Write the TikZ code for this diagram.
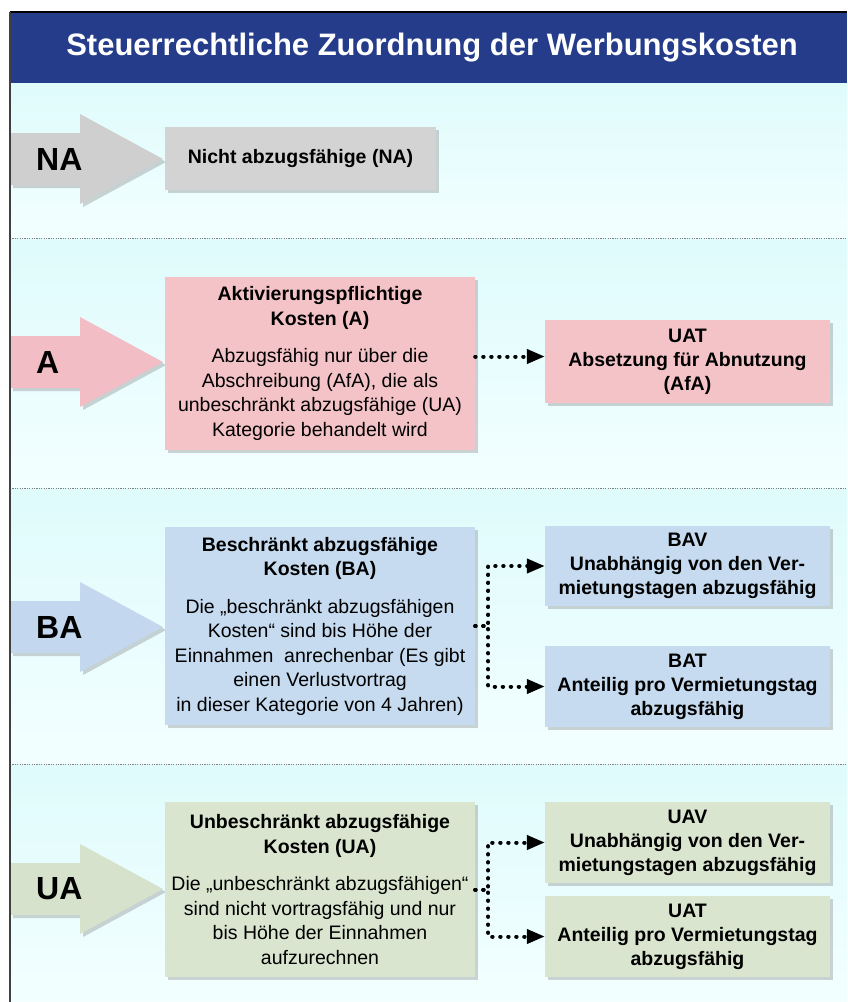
\documentclass[tikz,border=0pt]{standalone}
\usepackage{fontspec}
\setmainfont{Liberation Sans}
\usetikzlibrary{arrows.meta,shadows}

\definecolor{titelblau}{HTML}{243C8A}
\definecolor{cyanoben}{HTML}{DFFBFC}
\definecolor{cyanunten}{HTML}{F3FFFF}
\definecolor{grauBox}{HTML}{D3D3D3}
\definecolor{grauPf}{HTML}{CFCFCF}
\definecolor{rosaBox}{HTML}{F4C3C7}
\definecolor{rosaPf}{HTML}{F2BDC4}
\definecolor{blauBox}{HTML}{C6DBEF}
\definecolor{blauPf}{HTML}{C3D8EE}
\definecolor{gruenBox}{HTML}{DAE5D0}
\definecolor{gruenPf}{HTML}{D6E2CC}

\begin{document}
\begin{tikzpicture}[x=1pt,y=-1pt,
    schatten/.style={drop shadow={shadow xshift=3pt,shadow yshift=-3pt,opacity=0.35}},
    kasten/.style={align=center, inner sep=1pt, schatten, font=\fontsize{19.5}{24.5}\selectfont},
    gross/.style={kasten, minimum width=310pt},
    klein/.style={kasten, minimum width=285pt, font=\bfseries\fontsize{19.5}{24}\selectfont},
    punkte/.style={line width=4pt, line cap=round, dash pattern=on 0.4pt off 7.6pt,
        -{Triangle[length=18pt,width=14pt]}},
    trenner/.style={gray, line width=1pt, dash pattern=on 1.2pt off 1.2pt}]
    \useasboundingbox (0,0) rectangle (847,1002);
    % Hintergrund
    \foreach \ya/\yb in {83/238,238/488,488/764,764/1002}
        \shade[top color=cyanoben, bottom color=cyanunten] (10,\ya) rectangle (847,\yb);
    \fill[titelblau] (10,12) rectangle (847,83);
    \draw[line width=1.2pt] (10,12) -- (847,12);
    \node[text=white, font=\bfseries\fontsize{31}{31}\selectfont] (titel) at (432,48)
        {Steuerrechtliche Zuordnung der Werbungskosten};
    \foreach \y in {238,488,764}
        \draw[trenner] (10,\y) -- (847,\y);
    % Pfeile links
    \foreach \y/\farbe/\txt in {159/grauPf/NA,362/rosaPf/A,627/blauPf/BA,889/gruenPf/UA} {
        \fill[\farbe, schatten] (10,\y-26) -- (80,\y-26) -- (80,\y-45) -- (163,\y)
            -- (80,\y+45) -- (80,\y+26) -- (10,\y+26) -- cycle;
        \node[anchor=west, inner sep=0pt, font=\bfseries\fontsize{32}{32}\selectfont] (pf\txt) at (36,\y) {\txt};
    }
    \draw[darkgray, line width=1.5pt] (10,12) -- (10,1002);
    % Kaesten
    \node[gross, fill=grauBox, minimum width=271pt, minimum height=63pt,
        font=\bfseries\fontsize{19.5}{24.5}\selectfont] (na) at (300.5,158.5) {Nicht abzugsfähige (NA)};
    \node[gross, fill=rosaBox, minimum height=173pt] (a) at (320,363.5)
        {\textbf{Aktivierungspflichtige}\\\textbf{Kosten (A)}\\[13pt]
         Abzugsfähig nur über die\\Abschreibung (AfA), die als\\unbeschränkt abzugsfähige (UA)\\Kategorie behandelt wird};
    \node[klein, fill=rosaBox, minimum height=83pt] (uatA) at (687.5,361.5)
        {UAT\\Absetzung für Abnutzung\\(AfA)};
    \node[gross, fill=blauBox, minimum height=198pt] (ba) at (320,626)
        {\textbf{Beschränkt abzugsfähige}\\\textbf{Kosten (BA)}\\[13pt]
         Die „beschränkt abzugsfähigen\\Kosten“ sind bis Höhe der\\Einnahmen~ anrechenbar (Es gibt\\einen Verlustvortrag\\in dieser Kategorie von 4 Jahren)};
    \node[klein, fill=blauBox, minimum height=80pt] (bav) at (687.5,566)
        {BAV\\Unabhängig von den Ver-\\mietungstagen abzugsfähig};
    \node[klein, fill=blauBox, minimum height=81pt] (bat) at (687.5,686.5)
        {BAT\\Anteilig pro Vermietungstag\\abzugsfähig};
    \node[gross, fill=gruenBox, minimum height=175pt] (ua) at (320,889.5)
        {\textbf{Unbeschränkt abzugsfähige}\\\textbf{Kosten (UA)}\\[13pt]
         Die „unbeschränkt abzugsfähigen“\\sind nicht vortragsfähig und nur\\bis Höhe der Einnahmen\\aufzurechnen};
    \node[klein, fill=gruenBox, minimum height=81pt] (uav) at (687.5,842.5)
        {UAV\\Unabhängig von den Ver-\\mietungstagen abzugsfähig};
    \node[klein, fill=gruenBox, minimum height=81pt] (uat) at (687.5,936.5)
        {UAT\\Anteilig pro Vermietungstag\\abzugsfähig};
    % Verbindungen
    \draw[punkte] ([yshift=5pt]uatA.west -| a.east) -- ([yshift=5pt]uatA.west);
    \draw[punkte] (ba.east) -- ++(13,0) |- (bav.west);
    \draw[punkte] (ba.east) -- ++(13,0) |- (bat.west);
    \draw[punkte] (ua.east) -- ++(13,0) |- (uav.west);
    \draw[punkte] (ua.east) -- ++(13,0) |- (uat.west);
\end{tikzpicture}
\end{document}
